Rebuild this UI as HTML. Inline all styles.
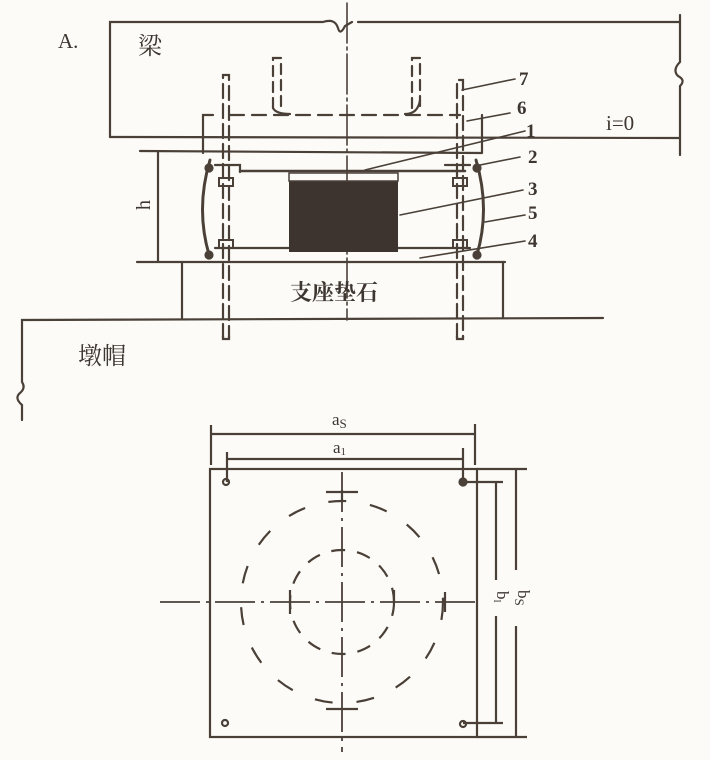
<!DOCTYPE html>
<html><head><meta charset="utf-8"><style>
html,body{margin:0;padding:0;background:#fcfbf7;}
svg{display:block}
text{font-family:"Liberation Serif","Noto Serif CJK SC",serif;fill:#3e3630}
</style></head><body>
<svg width="710" height="760" viewBox="0 0 710 760" xmlns="http://www.w3.org/2000/svg">
<g stroke="#4a4038" stroke-width="2.2" fill="none" stroke-linecap="round">
<!-- beam -->
<path d="M110,137 L110,22 L323,22 Q335,18 338,28 Q340,36 345,26 L352,22"/>
<path d="M358,22 L680,22"/>
<path d="M110,137 L680,138"/>
<path d="M680,15 L680,62 Q672,70 678,76 Q686,80 680,86 L680,155"/>
<!-- centerline -->
<path d="M347,3 L347,320" stroke-dasharray="40,4,3,4" stroke-width="1.6"/>
<!-- top plate 6 -->
<path d="M203,153 L203,115 L213,115 M482,115 L482,153 M140,151 L482,153"/>
<path d="M230,115 L460,115" stroke-dasharray="14,8"/>
<!-- U bar -->
<path d="M273,108 L273,58 L281,58 L281,108" stroke-dasharray="10,6"/>
<path d="M412,108 L412,58 L420,58 L420,108" stroke-dasharray="10,6"/>
<path d="M273,108 Q276,114 290,114 M420,100 Q418,114 405,114"/>
<!-- bolts -->
<path d="M223,338 L223,75 L229,75 L229,338" stroke-dasharray="14,6"/>
<path d="M223,336 L223,339 L229,339 L229,336 M457,336 L457,339 L463,339 L463,336"/>
<path d="M457,338 L457,80 L463,80 L463,338" stroke-dasharray="14,6"/>
<!-- h dimension -->
<path d="M158,151 L158,262 M137,262 L505,262"/>
<!-- bearing body -->
<path d="M210,160 Q195,210 210,258" stroke-width="3"/>
<path d="M476,160 Q491,210 476,258" stroke-width="3"/>
<path d="M240,171 L465,171" stroke-width="2.5"/>
<path d="M215,248 L470,248"/>
<path d="M215,165 L240,165 L240,172 M470,165 L445,165"/>
<!-- nuts -->
<g stroke-width="2">
<rect x="219" y="178" width="14" height="8"/><rect x="453" y="178" width="14" height="8"/>
<rect x="219" y="240" width="14" height="8"/><rect x="453" y="240" width="14" height="8"/>
</g>
<circle cx="209" cy="168" r="3.5" fill="#4a4038"/><circle cx="477" cy="168" r="3.5" fill="#4a4038"/>
<circle cx="209" cy="255" r="3.5" fill="#4a4038"/><circle cx="477" cy="255" r="3.5" fill="#4a4038"/>
<!-- pad stone -->
<path d="M182,318 L182,262 M503,262 L503,318"/>
<!-- ground -->
<path d="M22,420 L22,405 Q14,398 20,393 Q26,388 22,382 L22,320 L603,318"/>
<!-- leaders -->
<g stroke-width="1.6">
<path d="M462,90 L515,79 M467,121 L510,113 M365,170 L525,131 M475,166 L520,157 M400,215 L523,190 M485,222 L525,215 M420,258 L525,241"/>
</g>
</g>
<rect x="289" y="181" width="109" height="71" fill="#3d3430"/>
<rect x="289" y="173" width="109" height="8" fill="none" stroke="#4a4038" stroke-width="1.5"/>
<g font-size="21">
<text x="58" y="48">A.</text>
<text x="138" y="54" font-size="24">梁</text>
<text x="606" y="130">i=0</text>
<text x="78" y="364" font-size="24">墩帽</text>
<text x="290" y="300" font-size="22" font-weight="bold" font-family="Liberation Sans,Noto Sans CJK SC,sans-serif">支座垫石</text>
</g>
<g font-size="19" font-weight="bold">
<text x="519" y="85">7</text><text x="517" y="114">6</text><text x="526" y="137">1</text>
<text x="528" y="163">2</text><text x="528" y="195">3</text><text x="528" y="219">5</text><text x="528" y="247">4</text>
</g>
<text x="150" y="205" font-size="20" transform="rotate(-90 150 205)" text-anchor="middle">h</text>

<!-- plan view -->
<g stroke="#4a4038" stroke-width="2.2" fill="none">
<rect x="210" y="469" width="267" height="268"/>
<path d="M211,425 L211,465 M475,424 L475,465 M211,434 L475,434"/>
<path d="M227,452 L227,482 M463,448 L463,482 M227,459 L463,459"/>
<path d="M477,469 L527,469 M477,737 L527,737 M516,469 L516,737" />
<path d="M463,482 L503,482 M463,723 L503,723 M496,482 L496,723"/>
<path d="M160,602 L478,602" stroke-dasharray="40,6,3,6" stroke-width="1.8"/>
<path d="M342,472 L342,752" stroke-dasharray="40,6,3,6" stroke-width="1.8"/>
<path d="M326,492 L358,492 M326,709 L358,709 M290,590 L290,614 M394,590 L394,602 M445,592 L445,612 M342,490 L342,500" />
<circle cx="342" cy="602" r="101" stroke-dasharray="18,24"/>
<circle cx="342" cy="602" r="52" stroke-dasharray="14,12"/>
<circle cx="226" cy="482" r="3"/><circle cx="463" cy="482" r="3.5" fill="#4a4038"/>
<circle cx="225" cy="723" r="3"/><circle cx="463" cy="724" r="3"/>
</g>
<rect x="488" y="580" width="16" height="36" fill="#fcfbf7"/>
<rect x="508" y="570" width="18" height="56" fill="#fcfbf7"/>
<g font-family="Liberation Sans,sans-serif" font-size="17" fill="#3e3630">
<text x="332" y="425" font-family="Liberation Sans,sans-serif">a<tspan font-size="13" dy="3">S</tspan></text>
<text x="333" y="453" font-family="Liberation Sans,sans-serif">a<tspan font-size="11" dy="2">1</tspan></text>
<text x="490" y="598" transform="rotate(90 497 598)" font-family="Liberation Sans,sans-serif">b<tspan font-size="11" dy="3">l</tspan></text>
<text x="510" y="598" transform="rotate(90 518 598)" font-family="Liberation Sans,sans-serif">b<tspan font-size="13" dy="3">S</tspan></text>
</g>
</svg>
</body></html>
